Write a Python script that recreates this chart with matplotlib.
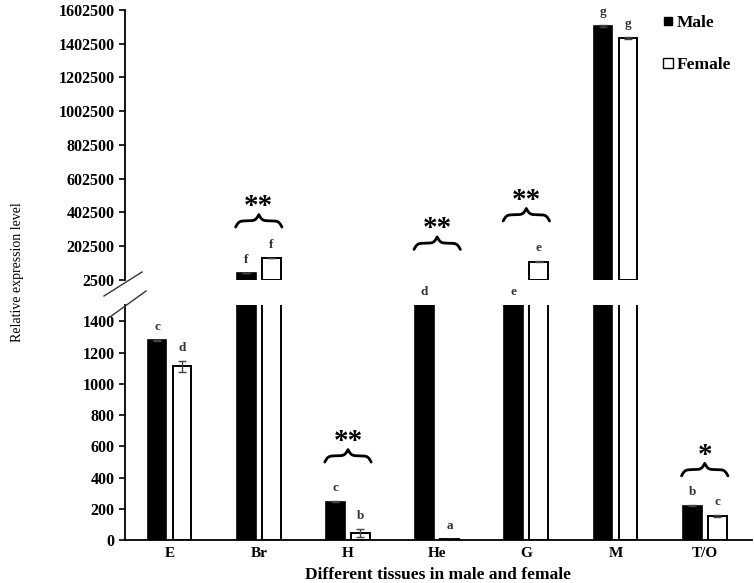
import numpy as np
import matplotlib
matplotlib.use('Agg')
import matplotlib.pyplot as plt
from matplotlib.lines import Line2D
import matplotlib.transforms as mtransforms

plt.rcParams['font.family'] = ['Liberation Serif', 'DejaVu Serif']

tissues = ['E', 'Br', 'H', 'He', 'G', 'M', 'T/O']
male = [1280, 43500, 246, 2000, 2000, 1507500, 220]
female = [1113, 133000, 43, 5, 111000, 1435000, 154]
male_err = [4, 1500, 4, 0, 0, 4000, 4]
female_err = [35, 2000, 25, 1, 2500, 7000, 6]
male_letters = ['c', 'f', 'c', 'd', 'e', 'g', 'b']
female_letters = ['d', 'f', 'b', 'a', 'e', 'g', 'c']
stars = ['', '**', '**', '**', '**', '', '*']
# gap (points) between the highest visible bar top and the brace
brace_gap = [0, 22, 28, 22, 29, 0, 21]

upper_ticks = [2500 + 200000 * k for k in range(9)]
lower_ticks = [0, 200, 400, 600, 800, 1000, 1200, 1400]
lower_top = 1505
break_low = 2500

W, H = 754, 583
fig = plt.figure(figsize=(W / 100, H / 100), dpi=100)
ax_up = fig.add_axes([125 / W, 1 - 280 / H, 627 / W, 270 / H])
ax_lo = fig.add_axes([125 / W, 1 - 540 / H, 627 / W, 235 / H])

x = np.arange(len(tissues))
m = np.array(male)
f = np.array(female)
me = np.array(male_err)
fe = np.array(female_err)
bw = 0.21
off = 0.14

ekw = dict(ecolor='#444444', capsize=3, elinewidth=1)

# lower panel: all bars
ax_lo.bar(x - off, m, bw, yerr=me, color='black', edgecolor='black',
          linewidth=1.2, error_kw=ekw)
ax_lo.bar(x + off, f, bw, yerr=fe, color='white', edgecolor='black',
          linewidth=1.4, error_kw=ekw)

# upper panel: only bars reaching past the break
km = m > break_low
kf = f > break_low
ax_up.bar(x[km] - off, m[km], bw, yerr=me[km], color='black', edgecolor='black',
          linewidth=1.2, error_kw=ekw)
ax_up.bar(x[kf] + off, f[kf], bw, yerr=fe[kf], color='white', edgecolor='black',
          linewidth=1.4, error_kw=ekw)

for ax in (ax_up, ax_lo):
    ax.set_xlim(-0.5, 6.53)
    ax.spines['top'].set_visible(False)
    ax.spines['right'].set_visible(False)
    ax.spines['left'].set_linewidth(1.3)
    ax.tick_params(axis='y', direction='out', length=4, width=1.2)

ax_up.set_ylim(break_low, 1602500)
ax_up.set_yticks(upper_ticks)
ax_up.set_yticklabels([str(v) for v in upper_ticks], fontweight='bold', fontsize=11.5)
ax_up.spines['bottom'].set_visible(False)
ax_up.set_xticks([])

ax_lo.set_ylim(0, lower_top)
ax_lo.set_yticks(lower_ticks)
ax_lo.set_yticklabels([str(v) for v in lower_ticks], fontweight='bold', fontsize=11.5)
ax_lo.spines['bottom'].set_linewidth(1.3)
ax_lo.set_xticks(x)
ax_lo.set_xticklabels(tissues, fontweight='bold', fontsize=11)
ax_lo.tick_params(axis='x', length=0, pad=5)


def visible_top(val):
    # returns (axes, y) where the top of a bar is seen
    if val <= lower_top:
        return ax_lo, val
    if val < break_low:
        return ax_lo, lower_top
    return ax_up, val


# significance letters
for i in range(len(tissues)):
    for xs, v, e, lab in ((x[i] - off, male[i], male_err[i], male_letters[i]),
                          (x[i] + off, female[i], female_err[i], female_letters[i])):
        ax, yv = visible_top(v + e)
        ax.annotate(lab, (xs, yv), xytext=(0, 5), textcoords='offset points',
                    ha='center', va='bottom', fontsize=9.5, fontweight='bold',
                    color='#333333', annotation_clip=False)


def draw_brace(ax, xc, width, yv, gap, h=9):
    # brace drawn in data x and points above the anchor
    base = ax.transData.transform((0, yv))[1] / fig.dpi * 72 + gap
    trans = mtransforms.blended_transform_factory(
        ax.transData, mtransforms.Affine2D().scale(fig.dpi / 72))
    beta = 28.0
    xh = np.linspace(0, 0.5, 200)
    yh = 1 / (1 + np.exp(-beta * (xh - xh[0]))) + 1 / (1 + np.exp(-beta * (xh - xh[-1])))
    yh = (yh - yh.min()) / (yh.max() - yh.min())
    xx = np.concatenate([xh, 1 - xh[::-1]])
    yy = np.concatenate([yh, yh[::-1]])
    line = Line2D(xc - width / 2 + xx * width, base + yy * h, color='black',
                  lw=2.0, transform=trans, clip_on=False, solid_capstyle='round')
    ax.add_line(line)
    return base + h


for i, s in enumerate(stars):
    if not s:
        continue
    ax, yv = visible_top(max(male[i] + male_err[i], female[i] + female_err[i]))
    if ax is ax_lo and yv >= lower_top:
        ax, yv = ax_up, break_low
    top = draw_brace(ax, x[i], 0.52, yv, brace_gap[i])
    ax.annotate(s, (x[i], yv), xytext=(0, top - ax.transData.transform((0, yv))[1] / fig.dpi * 72 - 4),
                textcoords='offset points', ha='center', va='bottom',
                fontsize=21, fontweight='bold', annotation_clip=False)

# axis break marks
for (x0, y0, x1, y1) in ((104, 296, 142, 272), (110, 317, 146, 291)):
    fig.add_artist(Line2D([x0 / W, x1 / W], [1 - y0 / H, 1 - y1 / H],
                          color='#333333', lw=1.0, transform=fig.transFigure))

handles = [Line2D([], [], marker='s', ls='', markersize=6, markerfacecolor='black',
                  markeredgecolor='black'),
           Line2D([], [], marker='s', ls='', markersize=7, markerfacecolor='white',
                  markeredgecolor='black')]
leg = ax_up.legend(handles, ['Male', 'Female'], loc='upper left',
                   bbox_to_anchor=(647 / W, 1 + 1 / H), bbox_transform=fig.transFigure,
                   frameon=False, handlelength=0.6, handletextpad=0.2,
                   labelspacing=1.5, prop=dict(weight='bold', size=12.5))

fig.text(18 / W, 1 - 272 / H, 'Relative expression level', rotation=90,
         ha='center', va='center', fontsize=10)
fig.text(438 / W, 1 - 575 / H, 'Different tissues in male and female',
         ha='center', va='center', fontsize=12.5, fontweight='bold')

fig.savefig('out.png', dpi=100)
